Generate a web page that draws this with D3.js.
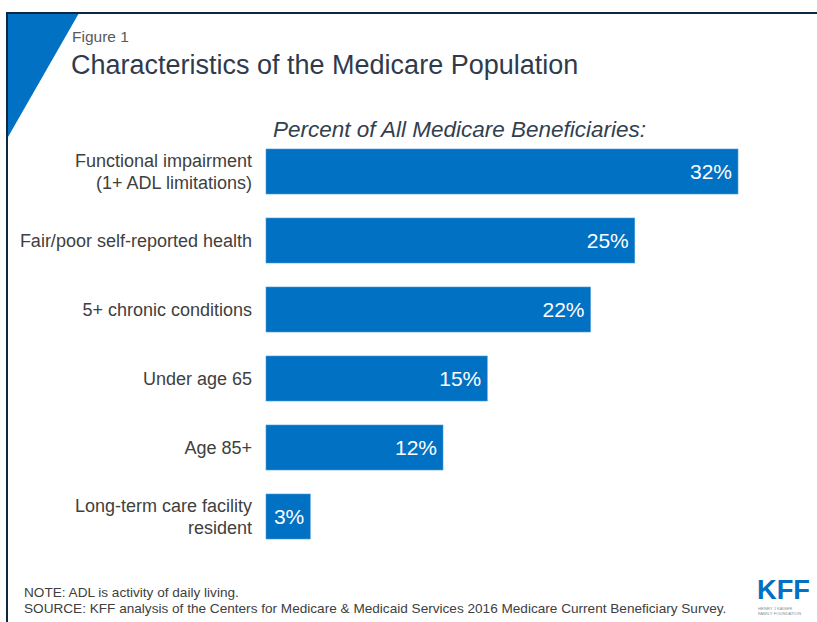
<!DOCTYPE html>
<html>
<head>
<meta charset="utf-8">
<script src="https://cdn.jsdelivr.net/npm/d3@7/dist/d3.min.js"></script>
<style>
  html, body { margin: 0; padding: 0; background: #fff; }
  svg { display: block; font-family: "Liberation Sans", Arial, sans-serif; }
</style>
</head>
<body>
<svg id="chart" width="817" height="622"></svg>
<script>
// Share of Medicare beneficiaries with each characteristic
const categories = [
  ["Functional impairment", "(1+ ADL limitations)"],
  ["Fair/poor self-reported health"],
  ["5+ chronic conditions"],
  ["Under age 65"],
  ["Age 85+"],
  ["Long-term care facility", "resident"]
];
const values = [32, 25, 22, 15, 12, 3];
const valueLabels = ["32%", "25%", "22%", "15%", "12%", "3%"];

const svg = d3.select("#chart");
const blue = "#0171C4";

// Frame: dark rule along top and left edges, blue corner wedge
svg.append("path")
  .attr("d", "M8,13 L79,13 L8,137 Z")
  .attr("fill", blue);
svg.append("line").attr("x1", 6).attr("x2", 817).attr("y1", 13).attr("y2", 13)
  .attr("stroke", "#0C2840").attr("stroke-width", 2);
svg.append("line").attr("x1", 7).attr("x2", 7).attr("y1", 12).attr("y2", 622)
  .attr("stroke", "#0C2840").attr("stroke-width", 2);

// Headings
svg.append("text").attr("x", 72).attr("y", 41.5)
  .attr("font-size", 15.5).attr("fill", "#595959").text("Figure 1");
svg.append("text").attr("x", 71).attr("y", 74)
  .attr("font-size", 27).attr("fill", "#2F3B4C")
  .text("Characteristics of the Medicare Population");
svg.append("text").attr("x", 273).attr("y", 137)
  .attr("font-size", 22.5).attr("font-style", "italic").attr("fill", "#333F4F")
  .text("Percent of All Medicare Beneficiaries:");

// Scales
const idx = d3.range(values.length);
const y = d3.scaleBand().domain(idx).range([137, 551])
  .paddingInner(24 / 69).paddingOuter(12 / 69);
const x = d3.scaleLinear().domain([0, 32]).range([266, 738]);

// Bars
svg.append("g").selectAll("rect").data(idx).join("rect")
  .attr("x", x(0))
  .attr("y", i => y(i))
  .attr("width", i => x(values[i]) - x(0))
  .attr("height", y.bandwidth())
  .attr("fill", blue)
  .attr("stroke", "#4A9AD6").attr("stroke-width", 0.6);

// Value labels inside bar ends
svg.append("g").selectAll("text").data(idx).join("text")
  .attr("x", i => x(values[i]) - 6)
  .attr("y", i => y(i) + y.bandwidth() / 2)
  .attr("dy", "0.36em")
  .attr("text-anchor", "end")
  .attr("font-size", 21).attr("fill", "#fff")
  .text(i => valueLabels[i]);

// Category labels, right-aligned beside bars
const cat = svg.append("g").selectAll("text").data(idx).join("text")
  .attr("text-anchor", "end")
  .attr("font-size", 18).attr("fill", "#404040")
  .attr("y", i => y(i) + y.bandwidth() / 2);
cat.each(function(i) {
  const lines = categories[i];
  const t = d3.select(this);
  lines.forEach((ln, k) => {
    t.append("tspan").attr("x", 252)
      .attr("dy", k === 0 ? (0.36 - (lines.length - 1) * 0.6) + "em" : "1.2em")
      .text(ln);
  });
});

// Notes
svg.append("text").attr("x", 24).attr("y", 597)
  .attr("font-size", 13.6).attr("fill", "#404040")
  .text("NOTE: ADL is activity of daily living.");
svg.append("text").attr("x", 24).attr("y", 613)
  .attr("font-size", 13.6).attr("fill", "#404040")
  .text("SOURCE: KFF analysis of the Centers for Medicare & Medicaid Services 2016 Medicare Current Beneficiary Survey.");

// KFF mark
const logo = svg.append("g").attr("transform", "translate(757,578)");
logo.append("text").attr("x", 0).attr("y", 21)
  .attr("font-size", 27).attr("font-weight", "bold").attr("fill", blue)
  .attr("textLength", 53).attr("lengthAdjust", "spacingAndGlyphs")
  .text("KFF");
logo.append("text").attr("x", 1).attr("y", 31.5)
  .attr("font-size", 4.2).attr("fill", "#8a8f96")
  .text("HENRY J KAISER");
logo.append("text").attr("x", 1).attr("y", 37)
  .attr("font-size", 4.2).attr("fill", "#8a8f96")
  .text("FAMILY FOUNDATION");
</script>
</body>
</html>
